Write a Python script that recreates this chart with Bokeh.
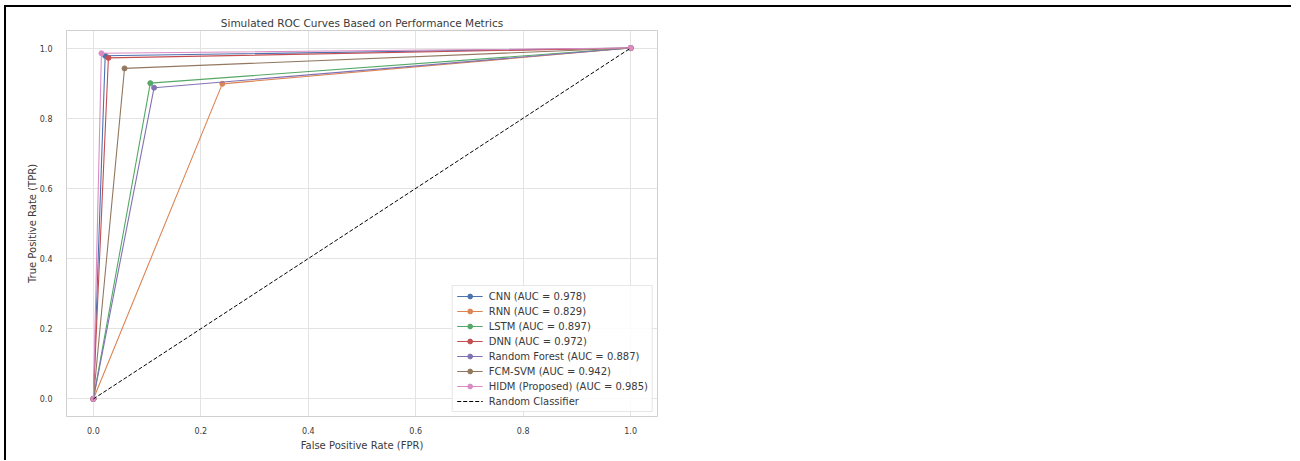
from bokeh.plotting import figure
from bokeh.models import Range1d, FixedTicker, PrintfTickFormatter, Legend, LegendItem
from bokeh.embed import file_html
from bokeh.resources import INLINE

models = ["CNN", "RNN", "LSTM", "DNN", "Random Forest", "FCM-SVM", "HIDM (Proposed)"]
fpr = [0.022, 0.240, 0.106, 0.028, 0.113, 0.058, 0.015]
tpr = [0.978, 0.898, 0.900, 0.972, 0.887, 0.942, 0.985]
auc = [0.978, 0.829, 0.897, 0.972, 0.887, 0.942, 0.985]
colors = ["#4C72B0", "#DD8452", "#55A868", "#C44E52", "#8172B3", "#937860", "#DA8BC3"]
ticks = [0.0, 0.2, 0.4, 0.6, 0.8, 1.0]

FONT = "DejaVu Sans"
TXT = "#3a3a3a"

p = figure(frame_width=591, frame_height=386,
           min_border_left=60, min_border_top=23, min_border_bottom=44, min_border_right=634,
           x_range=Range1d(-0.05, 1.05), y_range=Range1d(-0.05, 1.05),
           output_backend="svg", toolbar_location=None,
           title="Simulated ROC Curves Based on Performance Metrics",
           margin=(5, 0, 0, 4),
           styles={"border-top": "2px solid black", "border-left": "2px solid black"})
p.background_fill_color = "white"
p.border_fill_color = "white"
p.outline_line_color = "#d0d0d0"

p.title.align = "center"
p.title.text_font = FONT
p.title.text_font_size = "10.5px"
p.title.text_font_style = "normal"
p.title.text_color = TXT
p.title.standoff = 4

for ax in (p.xaxis[0], p.yaxis[0]):
    ax.ticker = FixedTicker(ticks=ticks)
    ax.formatter = PrintfTickFormatter(format="%.1f")
    ax.major_tick_line_color = None
    ax.minor_tick_line_color = None
    ax.major_tick_out = 0
    ax.major_tick_in = 0
    ax.axis_line_color = None
    ax.major_label_text_font = FONT
    ax.major_label_text_font_size = "8px"
    ax.major_label_text_color = TXT
    ax.axis_label_text_font = FONT
    ax.axis_label_text_font_size = "10px"
    ax.axis_label_text_font_style = "normal"
    ax.axis_label_text_color = TXT

p.xaxis.axis_label = "False Positive Rate (FPR)"
p.yaxis.axis_label = "True Positive Rate (TPR)"
p.xaxis.major_label_standoff = 10
p.xaxis.axis_label_standoff = 3
p.yaxis.major_label_standoff = 14
p.yaxis.axis_label_standoff = -1

p.grid.grid_line_color = "#e3e3e3"
p.grid.grid_line_width = 1

items = []
for m, f, t, a, c in zip(models, fpr, tpr, auc, colors):
    xs = [0.0, f, 1.0]
    ys = [0.0, t, 1.0]
    r1 = p.line(xs, ys, line_color=c, line_width=1.1)
    r2 = p.scatter(xs, ys, size=5, fill_color=c, line_color=c)
    items.append(LegendItem(label=f"{m} (AUC = {a:.3f})", renderers=[r1, r2]))

rd = p.line([0.0, 1.0], [0.0, 1.0], line_color="black", line_width=1, line_dash="4 2")
items.append(LegendItem(label="Random Classifier", renderers=[rd]))

legend = Legend(items=items, location="bottom_right")
legend.margin = 4
legend.padding = 4
legend.spacing = 3
legend.label_height = 12
legend.glyph_height = 12
legend.glyph_width = 26
legend.label_standoff = 6
legend.label_text_font = FONT
legend.label_text_font_size = "10px"
legend.label_text_color = TXT
legend.border_line_color = "#d0d0d0"
legend.background_fill_alpha = 0.85
p.add_layout(legend, "center")

open("out.html", "w").write(file_html(p, INLINE))
